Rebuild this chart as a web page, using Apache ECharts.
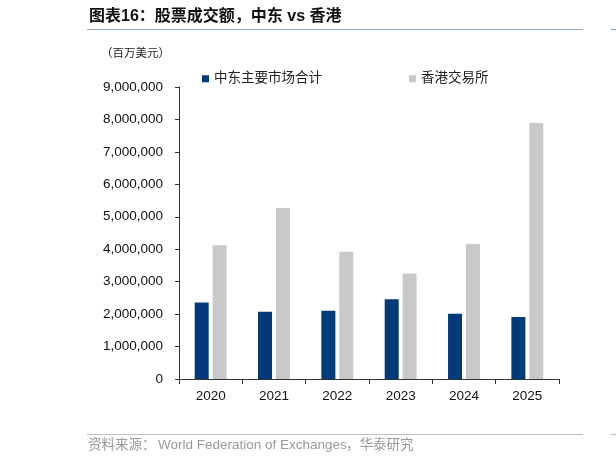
<!DOCTYPE html>
<html>
<head>
<meta charset="utf-8">
<script src="https://cdn.jsdelivr.net/npm/echarts@6/dist/echarts.min.js"></script>
<style>
html,body{margin:0;padding:0;background:#fff;}
#c{width:616px;height:465px;}
</style>
</head>
<body>
<div id="c"></div>
<script>
var categories = ['2020', '2021', '2022', '2023', '2024', '2025'];
var middleEast = [2360000, 2070000, 2100000, 2460000, 2010000, 1910000];
var hongKong = [4120000, 5270000, 3920000, 3250000, 4160000, 7890000];
var seriesNames = ['中东主要市场合计', '香港交易所'];
var titleText = '图表16：股票成交额，中东 vs 香港';
var unitText = '（百万美元）';
var sourcePrefix = '资料来源：';
var sourceMain = 'World Federation of Exchanges';
var sourceSuffix = '，华泰研究';

var FONT = '"Liberation Sans", "Noto Sans CJK SC", sans-serif';
var chart = echarts.init(document.getElementById('c'));
chart.setOption({
  backgroundColor: '#fff',
  animation: false,
  textStyle: { fontFamily: FONT },
  grid: { left: 179, right: 57, top: 87, bottom: 86 },
  legend: {
    left: 197, top: 67,
    itemWidth: 7, itemHeight: 7, itemGap: 87,
    icon: 'rect',
    textStyle: { fontSize: 13.5, color: '#222', fontFamily: FONT },
    data: seriesNames
  },
  xAxis: {
    type: 'category',
    data: categories,
    axisLine: { lineStyle: { color: '#333', width: 1 } },
    axisTick: { show: true, length: 5, lineStyle: { color: '#333' } },
    axisLabel: { color: '#111', fontSize: 13.5, margin: 11, fontFamily: FONT }
  },
  yAxis: {
    type: 'value',
    min: 0, max: 9000000, interval: 1000000,
    axisLine: { show: true, lineStyle: { color: '#333', width: 1 } },
    axisTick: { show: true, length: 4, lineStyle: { color: '#333' } },
    splitLine: { show: false },
    axisLabel: {
      color: '#111', fontSize: 13.5, margin: 16, fontFamily: FONT,
      formatter: function (v) { return v.toLocaleString('en-US'); }
    }
  },
  series: [
    {
      name: seriesNames[0], type: 'bar', data: middleEast,
      barWidth: 14, barGap: '28%',
      itemStyle: { color: '#003A78' }
    },
    {
      name: seriesNames[1], type: 'bar', data: hongKong,
      barWidth: 14,
      itemStyle: { color: '#C9C9C9' }
    }
  ],
  graphic: [
    { type: 'text', left: 89, top: 9, style: { text: titleText, font: 'bold 16px ' + FONT, fill: '#111' } },
    { type: 'line', shape: { x1: 87, y1: 29.5, x2: 583, y2: 29.5 }, style: { stroke: '#8FA8BE', lineWidth: 1.2 } },
    { type: 'line', shape: { x1: 611, y1: 29.5, x2: 616, y2: 29.5 }, style: { stroke: '#8FA8BE', lineWidth: 1.2 } },
    { type: 'text', left: 101, top: 48, style: { text: unitText, font: '11.5px ' + FONT, fill: '#222' } },
    { type: 'line', shape: { x1: 87, y1: 434.5, x2: 583, y2: 434.5 }, style: { stroke: '#B4C3D0', lineWidth: 1.2 } },
    { type: 'line', shape: { x1: 611, y1: 434.5, x2: 616, y2: 434.5 }, style: { stroke: '#B4C3D0', lineWidth: 1.2 } },
    { type: 'text', left: 88, top: 439, style: { text: sourcePrefix, font: '13.5px ' + FONT, fill: '#999' } },
    { type: 'text', left: 158, top: 439, style: { text: sourceMain, font: '13.5px ' + FONT, fill: '#999' } },
    { type: 'text', left: 346, top: 439, style: { text: sourceSuffix, font: '13.5px ' + FONT, fill: '#999' } }
  ]
});
</script>
</body>
</html>
